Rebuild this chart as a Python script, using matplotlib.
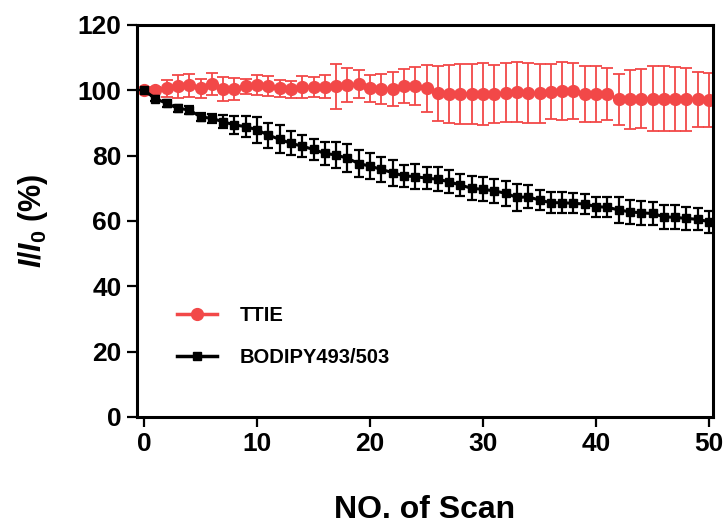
import numpy as np
import matplotlib

matplotlib.use('Agg')
import matplotlib.pyplot as plt
from matplotlib.lines import Line2D

# Values (mean and SD per scan)
scans = np.arange(0, 51)

ttie_mean = [100.0, 100.2, 100.6, 101.3, 101.6, 100.6, 101.9, 100.4, 100.4, 101.3,
             101.6, 101.3, 100.6, 100.4, 101.1, 101.1, 101.1, 101.3, 101.6, 101.9,
             100.6, 100.4, 100.4, 101.3, 101.3, 100.6, 99.1, 98.9, 98.9, 98.9,
             98.9, 98.9, 99.3, 99.6, 99.1, 99.1, 99.6, 99.8, 99.8, 98.9,
             98.9, 98.9, 97.2, 97.2, 97.5, 97.5, 97.5, 97.2, 97.2, 97.2, 97.0]
ttie_sd = [0.0, 0.8, 2.5, 3.5, 3.5, 2.8, 3.4, 3.8, 3.3, 2.3,
           3.0, 3.0, 2.5, 2.6, 3.3, 3.0, 3.5, 6.9, 5.2, 4.3,
           4.2, 4.6, 5.3, 5.1, 5.8, 7.3, 8.5, 8.9, 9.3, 9.3,
           9.4, 9.0, 9.0, 9.2, 9.2, 9.0, 8.5, 8.8, 8.5, 8.5,
           8.6, 8.0, 7.9, 8.9, 9.0, 9.8, 9.8, 9.8, 9.6, 8.3, 8.2]

bodipy_mean = [100.0, 97.5, 96.0, 94.5, 94.0, 91.9, 91.4, 90.4, 89.4, 88.9,
               87.9, 86.3, 85.0, 83.8, 82.9, 81.9, 80.7, 80.2, 79.2, 77.6,
               76.8, 75.8, 74.8, 73.8, 73.6, 73.1, 72.8, 72.0, 71.0, 70.0,
               69.7, 69.2, 68.5, 67.2, 67.4, 66.4, 65.6, 65.6, 65.4, 65.2,
               64.4, 64.2, 63.4, 62.8, 62.5, 62.3, 61.3, 61.1, 60.8, 60.5, 59.8]
bodipy_sd = [0.0, 0.8, 1.0, 1.0, 1.2, 1.2, 1.5, 2.0, 2.8, 3.2,
             4.0, 3.8, 4.3, 3.6, 3.4, 3.3, 3.6, 3.9, 4.3, 4.0,
             4.0, 3.8, 4.0, 3.3, 3.7, 3.4, 3.6, 3.5, 3.4, 3.7,
             3.7, 3.8, 3.8, 4.0, 3.5, 3.0, 3.3, 3.3, 3.1, 3.1,
             3.1, 3.0, 4.0, 3.6, 3.6, 3.5, 3.6, 3.7, 3.5, 3.4, 3.4]

labels = ['TTIE', 'BODIPY493/503']
red = '#F24848'

plt.rcParams['font.family'] = ['Liberation Sans', 'DejaVu Sans']
plt.rcParams['font.weight'] = 'bold'
plt.rcParams['mathtext.fontset'] = 'custom'
plt.rcParams['mathtext.it'] = 'Liberation Sans:bold:italic'
plt.rcParams['mathtext.rm'] = 'Liberation Sans:bold'

fig = plt.figure(figsize=(7.24, 5.26), dpi=100)
ax = fig.add_axes([137 / 724, 1 - 417 / 526, (713 - 137) / 724, (417 - 25) / 526])

ax.errorbar(scans, ttie_mean, yerr=ttie_sd, color=red, lw=2.2, marker='o', ms=8.5,
            elinewidth=1.3, capsize=4.5, capthick=1.3, zorder=2)
ax.errorbar(scans, bodipy_mean, yerr=bodipy_sd, color='black', lw=2.2, marker='s', ms=5.5,
            elinewidth=1.6, capsize=3.5, capthick=1.6, zorder=3)

ax.set_xlim(-0.62, 50.35)
ax.set_ylim(0, 120)
ax.set_xticks(np.arange(0, 51, 10))
ax.set_yticks(np.arange(0, 121, 20))
for s in ax.spines.values():
    s.set_linewidth(2.2)
ax.tick_params(width=1.6, length=7, labelsize=19, pad=4)

ax.set_xlabel('NO. of Scan', fontsize=23, fontweight='bold', labelpad=28)
ax.set_ylabel(r'$\mathit{I/I_0}$ (%)', fontsize=22, fontweight='bold', labelpad=20)

handles = [Line2D([], [], color=red, lw=2.5, marker='o', ms=8.5),
           Line2D([], [], color='black', lw=2.5, marker='s', ms=5.5)]
ax.legend(handles, labels, loc='upper left', bbox_to_anchor=(159 / 724, 1 - 288 / 526),
          bbox_transform=fig.transFigure, frameon=False, prop={'size': 14.5, 'weight': 'bold'},
          handlelength=2.0, handletextpad=1.1, labelspacing=1.15)

fig.savefig('out.png', dpi=100)
